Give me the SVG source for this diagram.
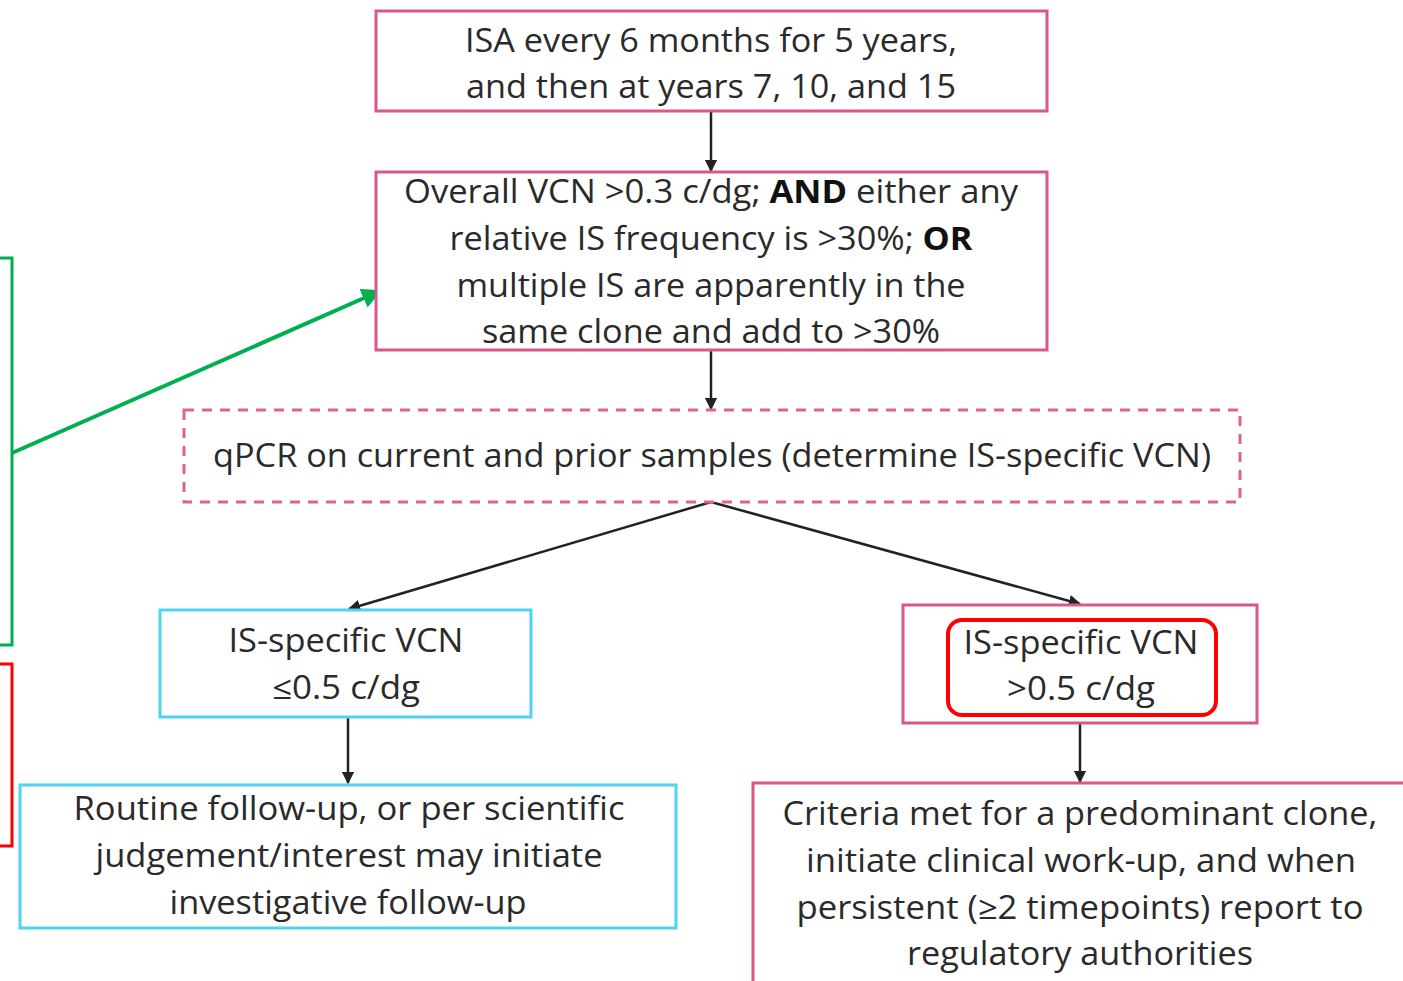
<svg xmlns="http://www.w3.org/2000/svg" width="1403" height="981" viewBox="0 0 1403 981">
<defs>
<style>
.t{font-family:"Open Sans","Liberation Sans",sans-serif;font-size:32px;fill:#2a2a2a;text-anchor:middle}
.b{font-weight:bold;fill:#111}
.pink{fill:#fff;stroke:#d9578a;stroke-width:3}
.dash{fill:#fff;stroke:#e0648f;stroke-width:3;stroke-dasharray:10 8}
.cyan{fill:#fff;stroke:#4fd3ee;stroke-width:3}
.con{stroke:#222;stroke-width:2.5;fill:none;marker-end:url(#ah)}
</style>
<marker id="ah" viewBox="0 0 10 10" refX="9" refY="5" markerWidth="5" markerHeight="5" orient="auto" markerUnits="strokeWidth">
<path d="M0,0 L10,5 L0,10 z" fill="#222"/>
</marker>
<marker id="ahg" viewBox="0 0 10 10" refX="9" refY="5" markerWidth="5" markerHeight="5" orient="auto" markerUnits="strokeWidth">
<path d="M0,0 L10,5 L0,10 z" fill="#00b050"/>
</marker>
</defs>
<rect width="1403" height="981" fill="#fff"/>

<g id="green-bracket"><rect x="-10" y="258" width="22" height="387" fill="none" stroke="#00b050" stroke-width="3"/></g>
<g id="red-bracket"><rect x="-10" y="664" width="22" height="182" fill="none" stroke="#ff0000" stroke-width="3"/></g>

<g id="connectors">
<line class="con" x1="711" y1="111" x2="711" y2="171"/>
<line class="con" x1="711" y1="350" x2="711" y2="409"/>
<polyline class="con" points="711,502 349,609"/>
<polyline class="con" points="711,502 1080,604"/>
<line class="con" x1="348" y1="717" x2="348" y2="783"/>
<line class="con" x1="1080" y1="723" x2="1080" y2="782"/>
<line x1="12" y1="453" x2="380" y2="291" stroke="#00b050" stroke-width="4" marker-end="url(#ahg)"/>
</g>

<g id="n1"><rect class="pink" x="376" y="11" width="671" height="100"/>
<text class="t" x="711" y="52" textLength="492" lengthAdjust="spacingAndGlyphs">ISA every 6 months for 5 years,</text>
<text class="t" x="711" y="98" textLength="490" lengthAdjust="spacingAndGlyphs">and then at years 7, 10, and 15</text></g>

<g id="n2"><rect class="pink" x="376" y="172" width="671" height="178"/>
<text class="t" x="711" y="203" textLength="614" lengthAdjust="spacingAndGlyphs">Overall VCN &gt;0.3 c/dg; <tspan class="b">AND</tspan> either any</text>
<text class="t" x="711" y="250" textLength="523" lengthAdjust="spacingAndGlyphs">relative IS frequency is &gt;30%; <tspan class="b">OR</tspan></text>
<text class="t" x="711" y="297" textLength="509" lengthAdjust="spacingAndGlyphs">multiple IS are apparently in the</text>
<text class="t" x="711" y="343" textLength="458" lengthAdjust="spacingAndGlyphs">same clone and add to &gt;30%</text></g>

<g id="n3"><rect class="dash" x="184" y="410" width="1056" height="92"/>
<text class="t" x="712" y="467" textLength="998" lengthAdjust="spacingAndGlyphs">qPCR on current and prior samples (determine IS-specific VCN)</text></g>

<g id="n4"><rect class="cyan" x="160" y="610" width="371" height="107"/>
<text class="t" x="346" y="652" textLength="235" lengthAdjust="spacingAndGlyphs">IS-specific VCN</text>
<text class="t" x="346" y="699" textLength="148" lengthAdjust="spacingAndGlyphs">≤0.5 c/dg</text></g>

<g id="n5"><rect class="pink" x="903" y="605" width="354" height="118"/>
<rect x="948" y="620" width="268" height="95" rx="14" fill="none" stroke="#ff0000" stroke-width="4"/>
<text class="t" x="1081" y="654" textLength="235" lengthAdjust="spacingAndGlyphs">IS-specific VCN</text>
<text class="t" x="1081" y="700" textLength="148" lengthAdjust="spacingAndGlyphs">&gt;0.5 c/dg</text></g>

<g id="n6"><rect class="cyan" x="20" y="785" width="656" height="143"/>
<text class="t" x="349" y="820" textLength="551" lengthAdjust="spacingAndGlyphs">Routine follow-up, or per scientific</text>
<text class="t" x="349" y="867" textLength="507" lengthAdjust="spacingAndGlyphs">judgement/interest may initiate</text>
<text class="t" x="348" y="914" textLength="357" lengthAdjust="spacingAndGlyphs">investigative follow-up</text></g>

<g id="n7"><rect class="pink" x="753" y="783" width="680" height="220"/>
<text class="t" x="1080" y="825" textLength="595" lengthAdjust="spacingAndGlyphs">Criteria met for a predominant clone,</text>
<text class="t" x="1081" y="872" textLength="550" lengthAdjust="spacingAndGlyphs">initiate clinical work-up, and when</text>
<text class="t" x="1080" y="919" textLength="567" lengthAdjust="spacingAndGlyphs">persistent (≥2 timepoints) report to</text>
<text class="t" x="1080" y="965" textLength="346" lengthAdjust="spacingAndGlyphs">regulatory authorities</text></g>
</svg>
